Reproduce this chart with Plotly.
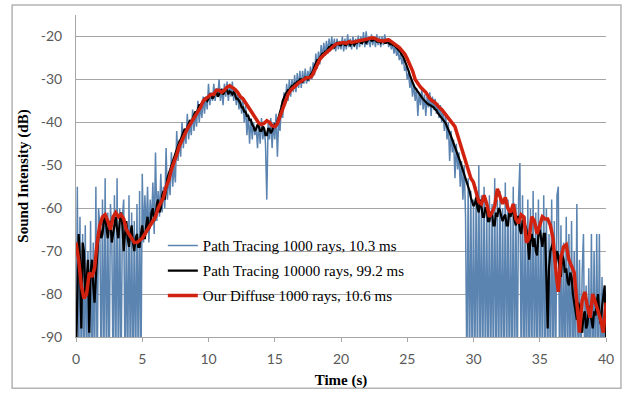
import plotly.graph_objects as go

# time grids (s)
time_fine = [round(0.1 * i, 1) for i in range(401)]   # path tracing series
time_coarse = [round(0.2 * i, 1) for i in range(201)]  # our diffuse series

# Path Tracing 1000 rays (blue), 0.1 s step; values below -90 are off-scale
pt1000 = [
    -100, -55, -100, -62, -100, -66, -100, -64, -100, -70,
    -100, -63, -100, -68, -100, -55, -100, -60, -64, -100,
    -58, -100, -53, -100, -61, -100, -59, -66, -100, -57,
    -100, -53, -100, -60, -100, -62, -58, -100, -64, -100,
    -57, -100, -61, -100, -63, -100, -59, -100, -56, -100,
    -52, -68, -57, -66, -55, -68, -58, -64, -54, -66,
    -47, -63, -56, -62, -52, -61, -55, -60, -46, -58,
    -52, -57, -47, -55, -50, -54, -42, -49, -44, -48,
    -40, -46, -42, -45, -38, -44, -40, -43, -37, -42,
    -38, -41, -35, -40, -36, -39, -34, -38, -34, -37,
    -31, -36, -33, -35, -31, -35, -32, -34, -30, -35,
    -32, -36, -31, -34, -30.5, -35, -31, -34, -30.5, -35,
    -32, -36, -33, -37, -34, -38, -35, -40, -36, -43,
    -38, -45, -39, -44, -40, -43, -41, -46, -40, -45,
    -39, -44, -41, -45, -58, -40, -44, -39, -46, -40,
    -44, -38, -48, -39, -42, -36, -39, -33, -36, -31,
    -35, -30, -34, -30, -33, -29, -33, -28.5, -32, -28,
    -32, -28, -31, -27.5, -31, -28, -30.5, -27, -30, -26,
    -29, -24, -27.5, -23.5, -26.5, -22, -25, -21.5, -24.5, -21,
    -24, -20.5, -23.5, -20, -23, -20.5, -23.5, -20.5, -23, -21,
    -23, -20, -23.5, -20.5, -23, -19.5, -22.5, -20.5, -23, -20,
    -22.5, -20.5, -23, -19.8, -22.5, -20, -22, -19, -22.5, -18.8,
    -22, -20, -22.5, -19.5, -22, -20, -22.5, -19.5, -22, -20,
    -22.5, -20, -22, -19.5, -21.5, -20.5, -22.5, -21, -23, -21.5,
    -24, -22, -24.5, -23, -25.5, -24, -26.5, -25, -28, -27,
    -30, -28.5, -32, -30, -34, -31, -35, -32, -38.5, -33,
    -36, -32, -37, -33.5, -38.5, -34, -36.5, -33, -38.5, -34,
    -37, -34.5, -38, -35.5, -39, -36, -40, -37, -42, -38,
    -44, -40, -49, -42, -47, -44, -53, -45, -51, -47,
    -55, -49, -58, -50, -62, -100, -53, -100, -56, -100,
    -58, -100, -55, -100, -50, -100, -57, -100, -55, -100,
    -60, -100, -57, -100, -59, -100, -53, -100, -58, -100,
    -56, -100, -60, -100, -54, -100, -58, -100, -61, -100,
    -55, -100, -59, -100, -58, -49.5, -100, -57, -100, -62,
    -100, -58, -100, -60, -100, -56, -100, -61, -100, -58,
    -100, -62, -100, -57, -100, -60, -100, -66, -100, -58,
    -100, -63, -100, -57, -55, -100, -64, -100, -68, -100,
    -62, -100, -66, -100, -63, -100, -70, -100, -59, -100,
    -72, -100, -75, -66, -100, -78, -100, -74, -100, -66,
    -100, -70, -100, -66, -100, -66, -100, -76, -100, -80,
    -88,
]

# Path Tracing 10000 rays (black), 0.1 s step
pt10000 = [
    -95, -78, -66, -72, -88, -68, -70, -80, -77, -72,
    -89, -75, -72, -78, -82, -76, -70, -66, -64, -67,
    -66, -63, -62, -65, -67, -64, -63, -68, -66, -63,
    -62, -65, -67, -63, -61, -64, -70, -66, -63, -67,
    -69, -66, -64, -68, -70, -67, -66, -69, -69, -66,
    -64, -67, -67, -64, -62, -65, -64, -61, -60, -63,
    -62, -59, -58, -61, -60, -57, -56, -58, -55, -53,
    -52, -51, -50, -49, -48, -47, -46, -45.5, -44.5, -44,
    -43, -42.5, -41.5, -42, -41, -40, -39.5, -40, -39, -38,
    -37.5, -38, -37, -36, -36, -35.5, -35.5, -34.5, -34.5, -35,
    -34.5, -33.5, -33.5, -34.5, -34, -33, -33, -34, -33.5, -32.5,
    -32.5, -33.5, -33, -32, -32.5, -33.5, -32.8, -33, -33.5, -33,
    -33.5, -34.5, -34.5, -35, -35.5, -36.5, -36.5, -37.5, -37.5, -38.5,
    -38.5, -39.5, -39.5, -40.5, -41, -42, -41.5, -40.5, -41, -42,
    -42, -41, -41.5, -43, -43, -41.5, -41.5, -42.5, -42, -41,
    -40.5, -41, -40, -39, -38, -36.5, -35, -34, -33.5, -33,
    -32.5, -32.5, -32, -31.5, -31.5, -31, -31, -30.5, -30.5, -30,
    -30, -30.5, -30, -29.5, -29.5, -30, -29.5, -29, -28.5, -28,
    -27, -26, -25.5, -25.5, -25, -24.5, -24, -24, -23.5, -23.5,
    -23, -22.5, -22.5, -22, -22, -22.5, -22, -21.5, -21.5, -22,
    -22, -21.5, -21.5, -22, -22, -21.5, -21.5, -22, -21.5, -21.5,
    -22, -21.5, -21.5, -21, -21, -21.5, -21.5, -21, -21, -21.5,
    -21, -20.5, -20.5, -21, -21, -20.5, -20.8, -21.2, -21.2, -21,
    -21.5, -21, -21, -21.5, -21.5, -21.2, -21.5, -21.8, -21.6, -22,
    -22, -22.3, -22.6, -23, -23.3, -23.8, -24.2, -24.8, -25.5, -26.2,
    -27, -28, -29, -30, -30.8, -31.5, -32, -32.5, -33, -33.5,
    -33.8, -34.2, -34.6, -35, -35.3, -35.6, -35.8, -36, -36.2, -36.4,
    -36.5, -37, -37.2, -37.8, -38.2, -38.6, -39, -39.4, -39.8, -40.2,
    -41, -41.6, -42.4, -43.2, -44, -44.8, -45.6, -46.5, -47.4, -48.3,
    -49.2, -50.2, -51.1, -52, -53, -54, -55, -56, -57.5, -58.5,
    -59.5, -59, -57.5, -60, -61, -58, -59.5, -62, -62, -60,
    -60, -63, -63, -61, -61, -64, -64, -61, -62, -60,
    -60.5, -62, -63, -62, -61.5, -64, -64, -61, -62, -60,
    -61, -63, -64, -62, -62, -65, -66, -63, -63, -64,
    -65, -68, -72, -67, -66, -69, -67, -70, -71, -66,
    -65, -67, -69, -66, -66, -76, -88, -74, -70, -69,
    -68, -71, -74, -70, -71, -74, -76, -71, -72, -75,
    -74, -77, -78, -75, -76, -80, -82, -85, -86, -82,
    -83, -87, -89, -85, -84, -88, -87, -83, -83, -86,
    -88, -84, -85, -82, -80, -85, -87, -83, -81, -78,
    -90,
]

# Our Diffuse 1000 rays (red), 0.2 s step
diffuse = [
    -68, -72, -78, -81, -80, -75, -76, -74, -68, -64,
    -62, -61.5, -63, -65, -62, -61, -62, -61.5, -62.5, -65,
    -66, -67, -68, -68, -67.5, -67, -66, -65, -64, -63,
    -62, -60, -58.5, -57.5, -55, -53.5, -51, -49.5, -47.5, -45.5,
    -44, -43, -41.5, -40.5, -39.5, -38.5, -37.5, -36.5, -35, -34.5,
    -34, -33.5, -33.5, -32.5, -32.5, -33, -32.5, -31.8, -31.5, -31.8,
    -32.3, -33, -34, -34.5, -35.5, -36.5, -37.5, -38.5, -39.5, -40.2,
    -40.5, -40.2, -39.6, -40, -40.8, -41, -40.3, -38.5, -36.8, -35,
    -33.5, -32.5, -31.8, -31.4, -30.8, -30.4, -30, -29.6, -29.6, -29.2,
    -28, -26.5, -25.3, -24.6, -24, -23.4, -22.8, -22.3, -21.8, -21.6,
    -21.5, -21.4, -21.6, -21.2, -21.4, -21.3, -21.2, -21.0, -20.9, -20.7,
    -20.6, -20.4, -20.3, -20.5, -20.9, -21.0, -21.1, -20.9, -20.8, -21.2,
    -21.6, -22.0, -22.6, -23.3, -24, -25.2, -26.5, -28, -30, -31,
    -31.8, -32.4, -33, -34, -34.8, -35.2, -35.7, -36.5, -37, -37.8,
    -38.6, -39.2, -40, -41, -43, -45, -46.5, -48.5, -51, -53,
    -54, -56, -58.5, -59, -57, -59, -62, -61, -59.5, -55.5,
    -57, -59, -57.5, -60, -61, -59, -62.5, -63.5, -61.5, -62,
    -68, -67, -62, -63, -66, -64, -62, -62.5, -62.5, -64,
    -67, -74, -79.5, -71.5, -69, -68.5, -72, -73.5, -75, -82,
    -89, -81.5, -79.5, -83, -85.5, -80, -82, -84.5, -86, -89,
    -82,
]

series_names = [
    "Path Tracing 1000 rays, 10.3 ms",
    "Path Tracing 10000 rays, 99.2 ms",
    "Our Diffuse 1000 rays, 10.6 ms",
]

x_ticks = [0, 5, 10, 15, 20, 25, 30, 35, 40]
y_ticks = [-20, -30, -40, -50, -60, -70, -80, -90]

W, H = 626, 397
L, R, T, B = 76, 19, 15, 56
pw, ph = W - L - R, H - T - B


def px(xpix):
    return (xpix - L) / pw


def py(ypix):
    return (H - B - ypix) / ph


fig = go.Figure()
fig.add_trace(go.Scatter(x=time_fine, y=pt1000, mode="lines", name=series_names[0],
                         line=dict(color="#5b84b1", width=1.5), legendgroup="a"))
fig.add_trace(go.Scatter(x=time_fine, y=pt10000, mode="lines", name=series_names[1],
                         line=dict(color="#000000", width=2.2), legendgroup="b"))
fig.add_trace(go.Scatter(x=time_coarse, y=diffuse, mode="lines", name=series_names[2],
                         line=dict(color="#d0220f", width=3.5), legendgroup="c"))

tick_font = dict(family="Lato, 'Open Sans', sans-serif", size=14, color="#595959")
title_font = dict(family="'Liberation Serif', 'Times New Roman', serif", size=15, color="#000000")

fig.update_layout(
    width=W, height=H,
    margin=dict(l=L, r=R, t=T, b=B, pad=0),
    paper_bgcolor="white", plot_bgcolor="white",
    showlegend=True,
    legend=dict(
        x=px(163), y=py(232), xanchor="left", yanchor="top",
        bgcolor="rgba(0,0,0,0)", borderwidth=0,
        font=dict(family="'Liberation Serif', 'Times New Roman', serif", size=15, color="#000000"),
        itemwidth=30, traceorder="grouped", tracegroupgap=2.5,
    ),
    xaxis=dict(
        range=[0, 40], tickvals=x_ticks, ticktext=[str(v) for v in x_ticks],
        showgrid=False, zeroline=False,
        showline=True, linecolor="#a6a6a6", linewidth=1,
        ticks="outside", ticklen=4, tickcolor="#a6a6a6", tickwidth=1,
        tickfont=tick_font, ticklabelstandoff=5,
        title=dict(text="<b>Time (s)</b>", font=title_font, standoff=8),
    ),
    yaxis=dict(
        range=[-90, -15], tickvals=y_ticks, ticktext=[str(v) for v in y_ticks],
        showgrid=True, gridcolor="#a6a6a6", gridwidth=1,
        zeroline=False, showline=True, linecolor="#a6a6a6", linewidth=1,
        ticks="", tickfont=tick_font, ticklabelstandoff=10,
        title=dict(text="<b>Sound Intensity (dB)</b>", font=title_font, standoff=8),
    ),
    shapes=[
        dict(type="rect", xref="paper", yref="paper",
             x0=px(145), x1=px(462), y0=py(340), y1=py(222),
             fillcolor="white", line=dict(width=0), layer="between"),
        dict(type="rect", xref="paper", yref="paper",
             x0=px(12), x1=px(622), y0=py(393), y1=py(5),
             fillcolor="rgba(0,0,0,0)", line=dict(color="#b4b4b4", width=1.5), layer="above"),
    ],
)

fig.write_html("out.html")
